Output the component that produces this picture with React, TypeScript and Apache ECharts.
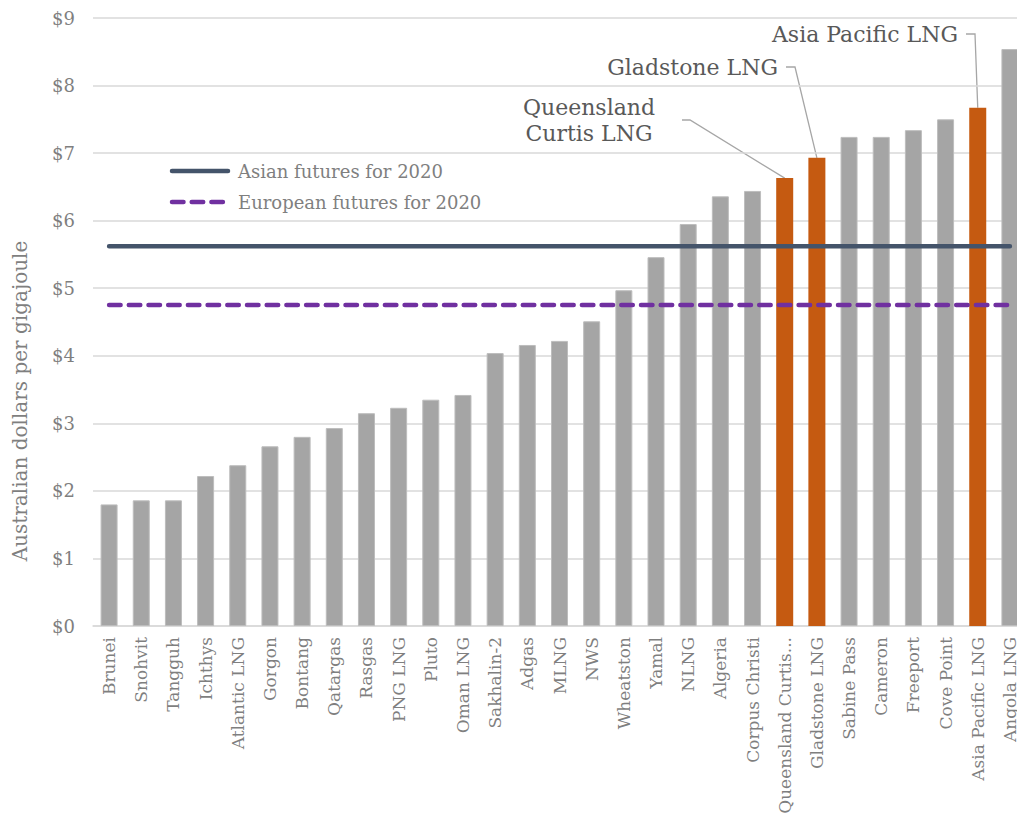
import React, { useEffect, useRef } from "react";
import * as echarts from "echarts";

const categories = [
  "Brunei", "Snohvit", "Tangguh", "Ichthys", "Atlantic LNG", "Gorgon", "Bontang", "Qatargas",
  "Rasgas", "PNG LNG", "Pluto", "Oman LNG", "Sakhalin-2", "Adgas", "MLNG", "NWS", "Wheatston",
  "Yamal", "NLNG", "Algeria", "Corpus Christi", "Queensland Curtis LNG", "Gladstone LNG",
  "Sabine Pass", "Cameron", "Freeport", "Cove Point", "Asia Pacific LNG", "Angola LNG",
];
const prices = [
  1.8, 1.86, 1.86, 2.22, 2.38, 2.66, 2.8, 2.93, 3.15, 3.23, 3.35, 3.42, 4.04, 4.16, 4.22, 4.51,
  4.97, 5.46, 5.95, 6.36, 6.44, 6.63, 6.93, 7.24, 7.24, 7.34, 7.5, 7.67, 8.54,
];
const highlighted = ["Queensland Curtis LNG", "Gladstone LNG", "Asia Pacific LNG"];
const asianFutures = 5.62;
const europeanFutures = 4.75;
const yTicks = [0, 1, 2, 3, 4, 5, 6, 7, 8, 9];

const FONT = "DejaVu Serif";
const CHART_W = 1026;
const CHART_H = 814;

export default function App() {
  const ref = useRef<HTMLDivElement>(null);
  useEffect(() => {
    const chart = echarts.init(ref.current!, undefined, { renderer: "svg" });
    const gridLeft = 93;
    const gridRight = 0;
    const gridTop = 18;
    const axisY = 626;
    const gridBottom = CHART_H - axisY;
    const plotW = CHART_W - gridLeft - gridRight;
    const band = plotW / categories.length;
    const plotH = axisY - gridTop;
    const xc = (i: number) => gridLeft + band * (i + 0.5);
    const yv = (v: number) => axisY - (v / 9) * plotH;
    const qi = categories.indexOf("Queensland Curtis LNG");
    const gi = categories.indexOf("Gladstone LNG");
    const ai = categories.indexOf("Asia Pacific LNG");
    const leader = { stroke: "#a6a6a6", lineWidth: 1.3, fill: "none" };
    const annText = { fill: "#595959", fontSize: 22, fontFamily: FONT };
    chart.setOption({
      animation: false,
      grid: {
        left: gridLeft,
        right: gridRight,
        top: gridTop,
        bottom: gridBottom,
        containLabel: false,
        outerBoundsMode: "none",
      },
      xAxis: {
        type: "category",
        data: categories,
        axisLine: { lineStyle: { color: "#d9d9d9", width: 1.5 } },
        axisTick: { show: false },
        axisLabel: {
          rotate: 90,
          interval: 0,
          color: "#7f7f7f",
          fontSize: 17,
          fontFamily: FONT,
          margin: 11,
          width: 182,
          overflow: "truncate",
          ellipsis: "...",
        },
      },
      yAxis: {
        type: "value",
        min: 0,
        max: 9,
        interval: 1,
        axisLine: { show: false },
        axisTick: { show: false },
        splitLine: { lineStyle: { color: "#d9d9d9", width: 1.5 } },
        axisLabel: {
          color: "#7f7f7f",
          fontSize: 18,
          fontFamily: FONT,
          margin: 18,
          formatter: (v: number) => (yTicks.includes(v) ? "$" + v : ""),
        },
      },
      series: [
        {
          type: "bar",
          barWidth: 17,
          data: prices.map((v, i) => ({
            value: v,
            itemStyle: highlighted.includes(categories[i])
              ? { color: "#c55a11" }
              : { color: "#a5a5a5", borderColor: "#bdbdbd", borderWidth: 1 },
          })),
        },
        {
          type: "line",
          name: "Asian futures for 2020",
          data: categories.map(() => asianFutures),
          symbol: "none",
          lineStyle: { color: "#44546a", width: 4.5, cap: "round" },
          z: 5,
        },
        {
          type: "line",
          name: "European futures for 2020",
          data: categories.map(() => europeanFutures),
          symbol: "none",
          lineStyle: { color: "#7030a0", width: 4.5, type: [11.5, 8.2], cap: "round" },
          z: 5,
        },
      ],
      graphic: [
        {
          type: "text",
          x: 20,
          y: 401,
          rotation: Math.PI / 2,
          style: {
            text: "Australian dollars per gigajoule",
            fill: "#7f7f7f",
            fontSize: 20,
            fontFamily: FONT,
            align: "center",
            verticalAlign: "middle",
          },
        },
        { type: "line", shape: { x1: 172, y1: 171, x2: 228, y2: 171 }, style: { stroke: "#44546a", lineWidth: 4.5, lineCap: "round" } },
        { type: "text", x: 238, y: 171, style: { text: "Asian futures for 2020", fill: "#7f7f7f", fontSize: 18, fontFamily: FONT, verticalAlign: "middle" } },
        { type: "line", shape: { x1: 172, y1: 202, x2: 228, y2: 202 }, style: { stroke: "#7030a0", lineWidth: 4.5, lineCap: "round", lineDash: [11.5, 8.2] } },
        { type: "text", x: 238, y: 202, style: { text: "European futures for 2020", fill: "#7f7f7f", fontSize: 18, fontFamily: FONT, verticalAlign: "middle" } },
        { type: "text", x: 958, y: 34, style: { ...annText, text: "Asia Pacific LNG", align: "right", verticalAlign: "middle" } },
        { type: "polyline", shape: { points: [[966, 34], [975, 34], [xc(ai), yv(prices[ai])]] }, style: leader },
        { type: "text", x: 778, y: 67, style: { ...annText, text: "Gladstone LNG", align: "right", verticalAlign: "middle" } },
        { type: "polyline", shape: { points: [[786, 67], [795, 67], [xc(gi), yv(prices[gi])]] }, style: leader },
        { type: "text", x: 589, y: 120, style: { ...annText, text: "Queensland\nCurtis LNG", align: "center", verticalAlign: "middle", lineHeight: 26 } },
        { type: "polyline", shape: { points: [[682, 120], [690, 120], [xc(qi), yv(prices[qi])]] }, style: leader },
      ],
    });
    return () => chart.dispose();
  }, []);
  return (
    <div style={{ position: "absolute", left: 0, top: 0, width: 1017, height: 814, overflow: "hidden" }}>
      <div ref={ref} style={{ width: CHART_W, height: CHART_H }} />
    </div>
  );
}
